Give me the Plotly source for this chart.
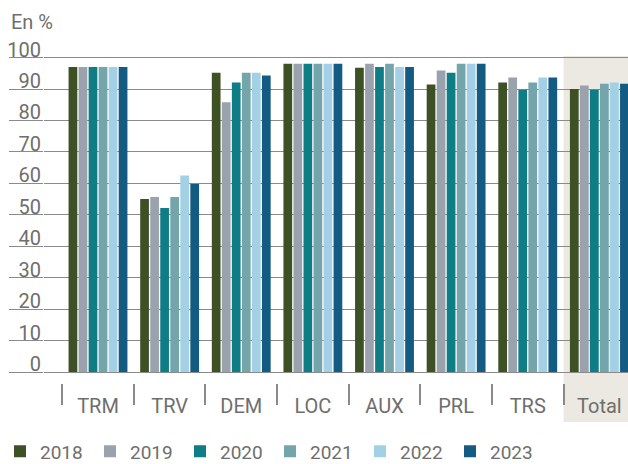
import plotly.graph_objects as go

categories = ["TRM", "TRV", "DEM", "LOC", "AUX", "PRL", "TRS", "Total"]
years = ["2018", "2019", "2020", "2021", "2022", "2023"]
v2018 = [97, 55, 95.2, 98, 96.8, 91.4, 92.1, 90]
v2019 = [97, 55.7, 85.8, 98, 98, 95.9, 93.7, 91.1]
v2020 = [97, 52.2, 92.1, 98, 97, 95.2, 89.8, 89.8]
v2021 = [97, 55.7, 95.2, 98, 98, 98, 92.1, 91.7]
v2022 = [97, 62.5, 95.2, 98, 97, 98, 93.7, 92.1]
v2023 = [97, 59.8, 94.3, 98, 97, 98, 93.7, 91.7]
series = [v2018, v2019, v2020, v2021, v2022, v2023]
colors = ["#3d5124", "#9aa3ad", "#0e7d85", "#74a5aa", "#a3d0e4", "#135b83"]
y_ticks = [0, 10, 20, 30, 40, 50, 60, 70, 80, 90, 100]

FONT = "Roboto"
TXT = "#6e6e6e"
GRID = "#8a8a8a"
FS = 20

fig = go.Figure()
for name, vals, c in zip(years, series, colors):
    fig.add_trace(go.Bar(x=categories, y=vals, name=name, marker_color=c,
                         marker_line_width=0))

fig.add_shape(type="rect", xref="x", yref="paper", x0=6.5, x1=7.5,
              y0=-0.119, y1=1.0, fillcolor="#ebe9e2", line_width=0, layer="below")

fig.update_layout(
    width=628, height=464,
    margin=dict(l=44, r=0, t=56, b=81),
    paper_bgcolor="white", plot_bgcolor="white",
    barmode="group", bargap=0.16, bargroupgap=0.13,
    font=dict(family=FONT, size=FS, color=TXT),
    showlegend=True,
    legend=dict(orientation="h", xref="container", x=0.0, xanchor="left",
                yref="container", y=0.027, yanchor="middle",
                font=dict(size=19, color=TXT), entrywidth=45, tracegroupgap=0,
                bgcolor="rgba(0,0,0,0)"),
    annotations=[dict(text="En %", xref="paper", yref="paper", x=-0.060, y=1.104,
                      xanchor="left", yanchor="middle", showarrow=False,
                      font=dict(size=FS, color=TXT))],
)
fig.update_xaxes(range=[-0.754, 7.40], showgrid=False, showline=False,
                 ticks="outside", tickson="boundaries", ticklen=21, tickwidth=1.5,
                 tickcolor=GRID, ticklabelstandoff=9,
                 tickfont=dict(size=FS, color=TXT))
fig.update_yaxes(range=[-3.49, 100.5], tickvals=y_ticks, showgrid=True,
                 gridcolor=GRID, gridwidth=1.4, zeroline=False, showline=False,
                 ticks="outside", ticklen=34, tickwidth=1.4, tickcolor=GRID,
                 ticklabelstandoff=-36, ticklabelshift=-8,
                 tickfont=dict(size=FS, color=TXT))

fig.write_html("out.html", config={"displayModeBar": False},
               post_script="document.body.style.margin='0px';"
                           "document.body.style.overflow='hidden';")
